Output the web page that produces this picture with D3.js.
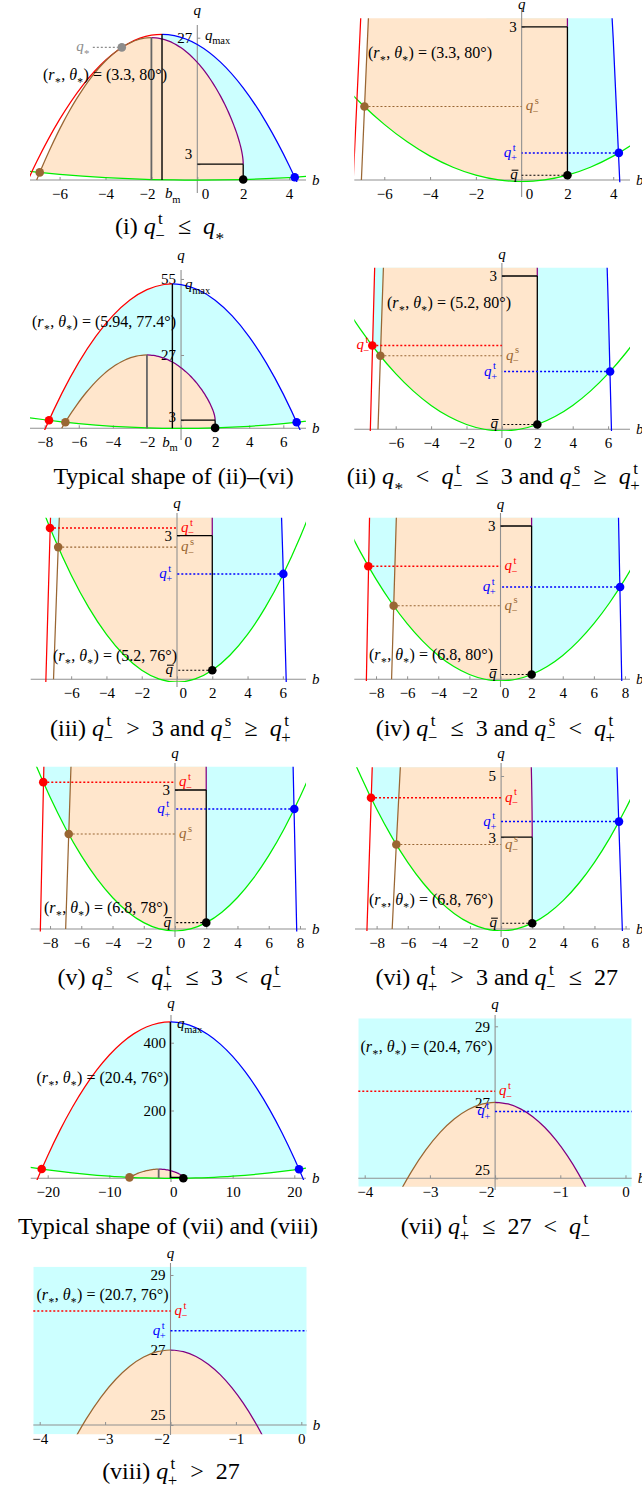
<!DOCTYPE html>
<html>
<head>
<meta charset="utf-8">
<title>Emission regions in the (b, q) plane</title>
<script src="https://cdn.jsdelivr.net/npm/d3@7"></script>
<style>
html, body { margin: 0; padding: 0; background: #fff; }
svg text { font-family: "Liberation Serif", "Times New Roman", serif; white-space: pre; }
</style>
</head>
<body>
<svg id="fig" width="642" height="1492"></svg>
<script>
// ---------------------------------------------------------------
// Critical curve (b, q), ordered from the left foot to the right end
// ---------------------------------------------------------------
const CRIT = [
  [-7,0],[-6.7025,3.0815],[-6.41,5.9319],[-6.1225,8.56],[-5.84,10.9744],[-5.5625,13.1836],
  [-5.29,15.1959],[-5.0225,17.0195],[-4.76,18.6624],[-4.5025,20.1325],[-4.25,21.4375],
  [-4.0025,22.585],[-3.76,23.5824],[-3.5225,24.437],[-3.29,25.1559],[-3.0625,25.7461],
  [-2.84,26.2144],[-2.6225,26.5675],[-2.41,26.8119],[-2.2025,26.954],[-2,27],
  [-1.8025,26.956],[-1.61,26.8279],[-1.4225,26.6215],[-1.24,26.3424],[-1.0625,25.9961],
  [-0.89,25.5879],[-0.7225,25.123],[-0.56,24.6064],[-0.4025,24.043],[-0.25,23.4375],
  [-0.1025,22.794],[0.04,22.1184],[0.1775,21.414],[0.31,20.6839],[0.4375,19.934],
  [0.56,19.1664],[0.6775,18.386],[0.79,17.5959],[0.8975,16.799],[1,16],[1.0975,15.2005],
  [1.19,14.4039],[1.2775,13.613],[1.36,12.8304],[1.4375,12.0586],[1.51,11.2999],
  [1.5775,10.5565],[1.64,9.8304],[1.6975,9.1235],[1.75,8.4375],[1.7975,7.774],
  [1.84,7.1344],[1.8775,6.52],[1.91,5.9319],[1.9375,5.3711],[1.96,4.8384],
  [1.9775,4.3345],[1.99,3.8599],[1.9975,3.4151],[2,3]
];

// Lower (angular) bound for each inclination
const GREEN_80 = [[-10,3.0789],[-9,2.4882],[-8,1.9597],[-7,1.4933],[-6,1.0891],[-5,0.7471],[-4,0.4673],[-3,0.2497],[-2,0.0942],[-1,0.0009],[0,-0.0302],[1,0.0009],[2,0.0942],[3,0.2497],[4,0.4673],[5,0.7471],[6,1.0891],[7,1.4933],[8,1.9597],[9,2.4882],[10,3.0789]];
const GREEN_78 = [[-10,4.475],[-9,3.6165],[-8,2.8484],[-7,2.1707],[-6,1.5833],[-5,1.0863],[-4,0.6797],[-3,0.3634],[-2,0.1375],[-1,0.002],[0,-0.0432],[1,0.002],[2,0.1375],[3,0.3634],[4,0.6797],[5,1.0863],[6,1.5833],[7,2.1707],[8,2.8484],[9,3.6165],[10,4.475]];
const GREEN_774 = [[-10,4.949],[-9,3.9997],[-8,3.1502],[-7,2.4007],[-6,1.7512],[-5,1.2016],[-4,0.7519],[-3,0.4021],[-2,0.1523],[-1,0.0024],[0,-0.0476],[1,0.0024],[2,0.1523],[3,0.4021],[4,0.7519],[5,1.2016],[6,1.7512],[7,2.4007],[8,3.1502],[9,3.9997],[10,4.949]];
const GREEN_76 = [[-24,35.7485],[-22,30.0294],[-20,24.8075],[-18,20.083],[-16,15.8557],[-14,12.1258],[-12,8.8933],[-10,6.158],[-9,4.9769],[-8,3.92],[-7,2.9876],[-6,2.1794],[-5,1.4956],[-4,0.9361],[-3,0.501],[-2,0.1901],[-1,0.0036],[0,-0.0585],[1,0.0036],[2,0.1901],[3,0.501],[4,0.9361],[5,1.4956],[6,2.1794],[7,2.9876],[8,3.92],[9,4.9769],[10,6.158],[12,8.8933],[14,12.1258],[16,15.8557],[18,20.083],[20,24.8075],[22,30.0294],[24,35.7485]];

// Upper (radial) bound for each emission radius
const RAD_33 = [[-9,-17.5062],[-8,-6.2151],[-7,3.4541],[-6,11.5013],[-5,17.9267],[-4,22.7301],[-3,25.9115],[-2,27.471],[-1,27.4087],[0,25.7244],[1,22.4181],[2,17.49],[3,10.9399],[4,2.7679],[5,-7.0261],[6,-18.4419]];
const RAD_594 = [[-10,-33.2185],[-9,-15.9708],[-8,-0.6411],[-7,12.7706],[-6,24.2642],[-5,33.8397],[-4,41.4973],[-3,47.2368],[-2,51.0582],[-1,52.9617],[0,52.947],[1,51.0143],[2,47.1636],[3,41.3948],[4,33.7079],[5,24.1031],[6,12.5802],[7,-0.8608],[8,-16.2197],[9,-33.4968]];
const RAD_52 = [[-10,-38.9682],[-9,-22.2245],[-8,-7.3673],[-7,5.6033],[-6,16.6871],[-5,25.8844],[-4,33.1951],[-3,38.6191],[-2,42.1566],[-1,43.8073],[0,43.5715],[1,41.4491],[2,37.44],[3,31.5443],[4,23.7619],[5,14.093],[6,2.5375],[7,-10.9047],[8,-26.2335],[9,-43.4489]];
const RAD_68 = [[-11,-43.1706],[-10,-23.6035],[-9,-5.9769],[-8,9.7092],[-7,23.4547],[-6,35.2598],[-5,45.1242],[-4,53.048],[-3,59.0314],[-2,63.0742],[-1,65.1765],[0,65.3382],[1,63.5593],[2,59.84],[3,54.18],[4,46.5796],[5,37.0386],[6,25.557],[7,12.1349],[8,-3.2278],[9,-20.5309],[10,-39.7747]];
const RAD_204 = [[-26,-207.184],[-24,-107.883],[-22,-16.561],[-20,66.782],[-18,142.147],[-16,209.532],[-14,268.939],[-12,320.368],[-10,363.817],[-8,399.288],[-6,426.78],[-4,446.293],[-2,457.828],[0,461.383],[2,456.96],[4,444.559],[6,424.178],[8,395.818],[10,359.481],[12,315.164],[14,262.869],[16,202.594],[18,134.341],[20,58.11],[22,-26.101],[24,-118.291],[26,-218.458]];

// Turning point (b_m, q_max) of each radial bound
const PEAK_33 = [-1.538, 27.64];
const PEAK_594 = [-0.508, 53.19];
const PEAK_52 = [-0.625, 43.94];
const PEAK_68 = [-0.417, 65.51];
const PEAK_204 = [-0.109, 461.4];

// Marked crossings [kind, b, q]
const CROSS_I    = [['s',-6.866,1.44],['t+',4.244,0.531],['bar',2,0.094]];
const CROSS_TYP1 = [['t-',-7.745,2.95],['s',-6.784,2.25],['t+',6.781,2.25],['bar',2,0.1523]];
const CROSS_II   = [['t-',-7.322,1.64],['s',-6.866,1.44],['t+',6.112,1.13],['bar',2,0.094]];
const CROSS_III  = [['t-',-7.2,3.16],['s',-6.734,2.76],['t+',6.027,2.2],['bar',2,0.19]];
const CROSS_IV   = [['t-',-8.493,2.213],['s',-6.866,1.44],['t+',7.686,1.807],['bar',2,0.094]];
const CROSS_V    = [['t-',-8.432,3.17],['s',-6.804,2.05],['t+',7.636,2.59],['bar',2,0.1375]];
const CROSS_VI   = [['t-',-8.36,4.29],['s',-6.734,2.76],['t+',7.577,3.51],['bar',2,0.19]];
const CROSS_TYP2 = [['t-',-20.972,27.29],['s',-6.734,2.76],['t+',20.767,26.76],['bar',2,0.19]];
const CROSS_VII  = [['t-',-20.972,27.29],['t+',20.767,26.76]];
const CROSS_VIII = [['t-',-21.26,28.04],['t+',21.058,27.51]];
const QSTAR_I = [-3.29, 25.16];

// Emission point of each panel
const R_STAR = [3.3, 3.3, 5.94, 5.2, 5.2, 6.8, 6.8, 6.8, 20.4, 20.4, 20.7];
const THETA_STAR = [80, 80, 77.4, 80, 76, 80, 78, 76, 76, 76, 76];

// Tick values
const TICKS_B_A = [-6, -4, -2, 0, 2, 4];
const TICKS_B_B = [-8, -6, -4, -2, 0, 2, 4, 6];
const TICKS_B_C = [-6, -4, -2, 0, 2, 4, 6];
const TICKS_B_D = [-8, -6, -4, -2, 0, 2, 4, 6, 8];
const TICKS_B_E = [-20, -10, 0, 10, 20];
const TICKS_B_F = [-4, -3, -2, -1, 0];

// ---------------------------------------------------------------
const svg = d3.select('#fig');
const defs = svg.append('defs');
const C = {
  red: '#ff0000', blue: '#0000ff', green: '#00ee00', brown: '#996633', purple: '#800080',
  cyan: '#ccffff', orange: '#ffe6cc', axis: '#909090', gray: '#8c8c8c', peak: '#666666'
};
const KIND_COLOR = { 't-': C.red, 's': C.brown, 't+': C.blue, 'bar': '#000' };
const KIND_WIDTH = { 't-': 1.5, 's': 1.1, 't+': 1.5, 'bar': 1.1 };

const QTM = { b: 'q', sup: 't', sub: '\u2212' };
const QTP = { b: 'q', sup: 't', sub: '+' };
const QSM = { b: 'q', sup: 's', sub: '\u2212' };
const QST = { b: 'q', star: true };
const QBAR = { b: 'q', bar: true };
const KIND_TOKEN = { 't-': QTM, 's': QSM, 't+': QTP, 'bar': QBAR };
const REL = s => '\u2002' + s + '\u2002';

// Lays out a short formula: plain strings are upright, objects are an italic
// symbol with optional stacked super/subscripts, a starred subscript or an overbar.
function mathText(parent, x, y, parts, o = {}) {
  const size = o.size || 15, color = o.color || '#000';
  const g = parent.append('g').attr('fill', color).attr('font-size', size);
  const put = (s, px, py, fs, italic) => {
    const t = g.append('text').attr('x', px).attr('y', py).text(s);
    if (fs) t.attr('font-size', fs);
    if (italic) t.attr('font-style', 'italic');
    return t.node().getComputedTextLength();
  };
  let cx = 0;
  for (const p of parts) {
    if (typeof p === 'string') { cx += put(p, cx, 0, 0, false); continue; }
    const w = put(p.b, cx, 0, 0, true);
    let ext = 0;
    if (p.sup) ext = Math.max(ext, put(p.sup, cx + w + 0.1 * size, -0.42 * size, 0.7 * size, false) + 0.1 * size);
    if (p.sub) ext = Math.max(ext, put(p.sub, cx + w - 0.02 * size, 0.3 * size, 0.7 * size, false) - 0.02 * size);
    if (p.star) ext = Math.max(ext, put('*', cx + w + 0.02 * size, 0.4 * size, 0.72 * size, false));
    if (p.bar) {
      g.append('line').attr('x1', cx + 0.1 * size).attr('x2', cx + w + 0.05 * size)
        .attr('y1', -0.6 * size).attr('y2', -0.6 * size)
        .attr('stroke', color).attr('stroke-width', 0.07 * size);
    }
    cx += w + ext + (ext ? 0.05 * size : 0);
  }
  const shift = o.anchor === 'middle' ? -cx / 2 : o.anchor === 'end' ? -cx : 0;
  g.attr('transform', `translate(${x + shift},${y})`);
  return g;
}

const PANELS = [
  { rad: RAD_33, peak: PEAK_33, green: GREEN_80, cross: CROSS_I, qstar: QSTAR_I,
    bDom: [-7.29, 4.736], xr: [30, 306], qDom: [-0.38, 29.22], yr: [182, 26], q0: 0, axisB: 0, qAxisPx: [25, 193],
    cyanFromPeak: true, peakLines: true, dots: true,
    bTicks: TICKS_B_A, bDx: { '-2': -4.4, '0': 7.7 }, qTicks: [27, 3], qDy: { '3': -10 },
    bmDx: 11, qmaxLab: [205, 39.5], rLab: [105, 80], qTitleY: 14.5 },
  { rad: RAD_33, peak: PEAK_33, green: GREEN_80, cross: CROSS_I,
    bDom: [-7.31, 4.733], xr: [354.3, 630], qDom: [-0.045, 3.166], yr: [182.3, 18.3], q0: 0, axisB: 0, qAxisPx: [9, 197],
    cyanFromPeak: true, dots: true, dotted: true, side: { 's': 'R', 't+': 'L', 'bar': 'L' },
    bTicks: TICKS_B_A, bDx: { '0': 7.3 }, qTicks: [3], rLab: [430, 58], qTitleY: 9 },
  { rad: RAD_594, peak: PEAK_594, green: GREEN_774, cross: CROSS_TYP1,
    bDom: [-8.86, 7.33], xr: [30, 306], qDom: [-0.626, 56.46], yr: [430, 275], q0: 0, axisB: 0, qAxisPx: [270, 440],
    peakLines: true, dots: true,
    bTicks: TICKS_B_B, bDx: { '0': 6.6 }, qTicks: [55, 27, 3], qDy: { '3': -3.5 },
    bmDx: -2, qmaxLab: [185, 289], rLab: [104, 327], qTitleY: 259.5 },
  { rad: RAD_52, peak: PEAK_52, green: GREEN_80, cross: CROSS_II,
    bDom: [-8.339, 7.237], xr: [354.3, 630], qDom: [-0.0333, 3.1624], yr: [431, 267.7], q0: 0, axisB: 0, qAxisPx: [263, 438],
    dots: true, dotted: true, side: { 't-': 'D', 's': 'R', 't+': 'L', 'bar': 'L' },
    bTicks: TICKS_B_C, bDx: { '0': 5.8 }, qTicks: [3], rLab: [449, 308], qTitleY: 259 },
  { rad: RAD_52, peak: PEAK_52, green: GREEN_76, cross: CROSS_III,
    bDom: [-8.2937, 7.3129], xr: [30.7, 306], qDom: [-0.0564, 3.3737], yr: [682, 517.7], q0: 0, axisB: 0, qAxisPx: [513, 687],
    dots: true, dotted: true, side: { 't-': 'R', 's': 'R', 't+': 'L', 'bar': 'L' },
    bTicks: TICKS_B_C, bDx: { '0': 5.7 }, qTicks: [3], rLab: [115, 661], qTitleY: 507.5 },
  { rad: RAD_68, peak: PEAK_68, green: GREEN_80, cross: CROSS_IV,
    bDom: [-9.396, 8.3226], xr: [354.3, 630], qDom: [-0.0333, 3.1624], yr: [681, 517.7], q0: 0, axisB: 0, qAxisPx: [513, 687],
    dots: true, dotted: true, side: { 't-': 'R', 's': 'R', 't+': 'L', 'bar': 'L' },
    bTicks: TICKS_B_D, bDx: { '0': 4.5 }, qTicks: [3], rLab: [431, 660], qTitleY: 508.5 },
  { rad: RAD_68, peak: PEAK_68, green: GREEN_78, cross: CROSS_V,
    bDom: [-9.238, 8.3867], xr: [30.7, 306], qDom: [-0.054, 3.5031], yr: [931.5, 766.7], q0: 0, axisB: 0, qAxisPx: [763, 937],
    dots: true, dotted: true, side: { 't-': 'R', 's': 'R', 't+': 'L', 'bar': 'L' },
    bTicks: TICKS_B_D, bDx: { '0': 6 }, qTicks: [3], rLab: [106, 913], qTitleY: 757.5 },
  { rad: RAD_68, peak: PEAK_68, green: GREEN_76, cross: CROSS_VI,
    bDom: [-9.3895, 8.2841], xr: [355, 630], qDom: [-0.0654, 5.2843], yr: [931, 767.3], q0: 0, axisB: 0, qAxisPx: [763, 937],
    dots: true, dotted: true, side: { 't-': 'R', 's': 'R', 't+': 'L', 'bar': 'L' },
    bTicks: TICKS_B_D, bDx: { '0': 4 }, qTicks: [5, 3], rLab: [431, 905], qTitleY: 757.5 },
  { rad: RAD_204, peak: PEAK_204, green: GREEN_76, cross: CROSS_TYP2,
    bDom: [-22.757, 21.898], xr: [30.7, 306], qDom: [-5.01, 472.9], yr: [1180, 1018], q0: 0, axisB: 0, qAxisPx: [1015, 1182],
    peakLines: true, dots: true,
    bTicks: TICKS_B_E, bDx: { '0': 2.3 }, qTicks: [400, 200],
    qmaxLab: [177, 1028], rLab: [102.5, 1083], qTitleY: 1008 },
  { green: GREEN_76, cross: CROSS_VII, cyanFull: true,
    bDom: [-4.0982, 0.0951], xr: [358.3, 631.7], qDom: [24.779, 29.2105], yr: [1186.7, 1018.3], q0: 25, axisB: -2, qAxisPx: [1015, 1190],
    dotted: true, side: { 't-': 'R', 't+': 'L' },
    bTicks: TICKS_B_F, bDx: { '-2': -9 }, qTicks: [29, 27, 25], qDy: { '25': -9 }, rLab: [426.5, 1052], qTitleY: 1009 },
  { green: GREEN_76, cross: CROSS_VIII, cyanFull: true,
    bDom: [-4.0979, 0.0826], xr: [33.3, 306.7], qDom: [24.752, 29.2213], yr: [1434.3, 1266.7], q0: 25, axisB: -2, qAxisPx: [1263, 1435],
    dotted: true, side: { 't-': 'R', 't+': 'L' },
    bTicks: TICKS_B_F, bDx: { '-2': -9 }, qTicks: [29, 27, 25], qDy: { '25': -10 }, rLab: [102.5, 1300], qTitleY: 1257.5 }
];

function drawPanel(p, idx) {
  const x = d3.scaleLinear().domain(p.bDom).range(p.xr);
  const y = d3.scaleLinear().domain(p.qDom).range(p.yr);
  const [x0, x1] = p.xr, [yB, yT] = p.yr;
  const lowY = yB + 3000, highY = yT - 3000;
  const id = 'pn' + idx;
  const mkClip = (name, build) => {
    const c = defs.append('clipPath').attr('id', id + name);
    build(c);
    return `url(#${id}${name})`;
  };
  const rect = (sel, xa, ya, xb, yb) => sel.append('rect')
    .attr('x', xa).attr('y', ya).attr('width', xb - xa).attr('height', yb - ya);
  const line = d3.line().x(d => x(d[0])).y(d => y(d[1])).curve(d3.curveCardinal.tension(0));
  const closeTo = (pts, yy) => line(pts) + `L${x(pts[pts.length - 1][0])},${yy}L${x(pts[0][0])},${yy}Z`;

  const frame = mkClip('f', c => rect(c, x0, yT, x1, yB));
  const aboveGreen = mkClip('g', c => c.append('path').attr('d', closeTo(p.green, highY)));
  const root = svg.append('g');

  // shaded regions
  const fill = root.append('g').attr('clip-path', frame).append('g').attr('clip-path', aboveGreen);
  if (p.cyanFull) {
    rect(fill, x0, yT, x1, yB).attr('fill', C.cyan);
  } else {
    let tgt = fill;
    if (p.cyanFromPeak) {
      tgt = fill.append('g').attr('clip-path', mkClip('c', c => rect(c, x(p.peak[0]), highY, x1 + 80, lowY)));
    }
    tgt.append('path').attr('d', closeTo(p.rad, lowY)).attr('fill', C.cyan);
  }
  fill.append('path').attr('d', closeTo(CRIT, lowY)).attr('fill', C.orange);

  // axes
  const yAx = y(p.q0), xAx = x(p.axisB);
  const axG = root.append('g');
  axG.append('line').attr('x1', x0).attr('x2', x1).attr('y1', yAx).attr('y2', yAx)
    .attr('stroke', C.axis).attr('stroke-width', 1.1);
  axG.append('line').attr('x1', xAx).attr('x2', xAx).attr('y1', p.qAxisPx[0]).attr('y2', p.qAxisPx[1])
    .attr('stroke', C.axis).attr('stroke-width', 1.1);
  const gb = axG.append('g').attr('transform', `translate(0,${yAx})`)
    .call(d3.axisBottom(x).tickValues(p.bTicks).tickSizeInner(-3).tickSizeOuter(0).tickPadding(8).tickFormat(d3.format('d')));
  gb.select('.domain').remove();
  gb.attr('font-family', null).attr('font-size', null);
  gb.selectAll('.tick line').attr('stroke', C.axis);
  gb.selectAll('.tick text').attr('fill', '#000').attr('font-size', 15)
    .attr('dx', d => (p.bDx && p.bDx[d]) || 0);
  const gq = axG.append('g').attr('transform', `translate(${xAx},0)`)
    .call(d3.axisLeft(y).tickValues(p.qTicks).tickSizeInner(-3).tickSizeOuter(0).tickPadding(5).tickFormat(d3.format('d')));
  gq.select('.domain').remove();
  gq.attr('font-family', null).attr('font-size', null);
  gq.selectAll('.tick line').attr('stroke', C.axis);
  gq.selectAll('.tick text').attr('fill', '#000').attr('font-size', 15)
    .attr('y', d => (p.qDy && p.qDy[d]) || 0);
  axG.append('text').attr('x', xAx).attr('y', p.qTitleY).attr('text-anchor', 'middle')
    .attr('font-style', 'italic').attr('font-size', 15).text('q');
  axG.append('text').attr('x', x1 + 6).attr('y', yAx + 5)
    .attr('font-style', 'italic').attr('font-size', 15).text('b');

  // boundary curves
  const cv = root.append('g').attr('clip-path', frame).attr('fill', 'none').attr('stroke-width', 1.25);
  cv.append('path').attr('d', line(p.green)).attr('stroke', C.green);
  if (p.rad) {
    const xm = x(p.peak[0]);
    cv.append('g').attr('clip-path', mkClip('l', c => rect(c, x0 - 20, highY, xm, lowY)))
      .append('path').attr('d', line(p.rad)).attr('stroke', C.red);
    cv.append('g').attr('clip-path', mkClip('r', c => rect(c, xm, highY, x1 + 20, lowY)))
      .append('path').attr('d', line(p.rad)).attr('stroke', C.blue);
  }
  cv.append('path').attr('d', line(CRIT.slice(0, 21))).attr('stroke', C.brown);
  cv.append('path').attr('d', line(CRIT.slice(20))).attr('stroke', C.purple);

  // reference segments
  const ref = root.append('g').attr('clip-path', frame);
  const end = CRIT[CRIT.length - 1];
  if (p.peakLines) {
    const top = CRIT[20];
    ref.append('line').attr('x1', x(top[0])).attr('x2', x(top[0])).attr('y1', y(0)).attr('y2', y(top[1]))
      .attr('stroke', C.peak).attr('stroke-width', 1.8);
    ref.append('line').attr('x1', x(p.peak[0])).attr('x2', x(p.peak[0])).attr('y1', y(0)).attr('y2', y(p.peak[1]))
      .attr('stroke', '#000').attr('stroke-width', 1.4);
  }
  const bar = p.cross.find(c => c[0] === 'bar');
  if (bar) {
    ref.append('line').attr('x1', x(bar[1])).attr('x2', x(bar[1])).attr('y1', y(bar[2])).attr('y2', y(end[1]))
      .attr('stroke', '#000').attr('stroke-width', 1.3);
    ref.append('line').attr('x1', xAx).attr('x2', x(end[0])).attr('y1', y(end[1])).attr('y2', y(end[1]))
      .attr('stroke', '#000').attr('stroke-width', 1.3);
  }

  // dotted levels with their labels
  if (p.dotted) {
    p.cross.forEach(([k, b, q]) => {
      const yy = y(q);
      let xa, xb;
      if (p.cyanFull) { xa = k === 't-' ? x0 : xAx; xb = k === 't-' ? xAx : x1; }
      else { xa = x(b); xb = xAx; }
      root.append('line').attr('x1', xa).attr('x2', xb).attr('y1', yy).attr('y2', yy)
        .attr('stroke', KIND_COLOR[k]).attr('stroke-width', KIND_WIDTH[k]).attr('stroke-dasharray', '2,2');
      const s = p.side[k];
      if (s === 'R') mathText(root, xAx + 4, yy + 4, [KIND_TOKEN[k]], { color: KIND_COLOR[k] });
      else if (s === 'L') mathText(root, xAx - 4, yy + 4, [KIND_TOKEN[k]], { color: KIND_COLOR[k], anchor: 'end' });
      else if (s === 'D') mathText(root, x(b) - 2, yy + 4, [KIND_TOKEN[k]], { color: KIND_COLOR[k], anchor: 'end' });
    });
  }

  // the point q_* on the critical curve
  if (p.qstar) {
    const qx = x(p.qstar[0]), qy = y(p.qstar[1]);
    root.append('line').attr('x1', qx - 29).attr('x2', qx - 4).attr('y1', qy).attr('y2', qy)
      .attr('stroke', C.gray).attr('stroke-width', 1.1).attr('stroke-dasharray', '2,2');
    root.append('circle').attr('cx', qx).attr('cy', qy).attr('r', 4.3).attr('fill', C.gray);
    mathText(root, qx - 32, qy + 4, [QST], { color: C.gray, anchor: 'end' });
  }

  // crossing points
  if (p.dots) {
    p.cross.forEach(([k, b, q]) => {
      root.append('circle').attr('cx', x(b)).attr('cy', y(q)).attr('r', 4.3).attr('fill', KIND_COLOR[k]);
    });
  }

  // annotations
  if (p.bmDx != null) {
    mathText(root, x(p.peak[0]) + p.bmDx, yAx + 18.5, [{ b: 'b', sub: 'm' }], { anchor: 'middle' });
  }
  if (p.qmaxLab) mathText(root, p.qmaxLab[0], p.qmaxLab[1], [{ b: 'q', sub: 'max' }]);
  mathText(root, p.rLab[0], p.rLab[1],
    ['(', { b: 'r', star: true }, ', ', { b: '\u03b8', star: true }, `) = (${R_STAR[idx]}, ${THETA_STAR[idx]}\u00b0)`],
    { size: 16, anchor: 'middle' });
}

PANELS.forEach(drawPanel);

// captions
const CAPTIONS = [
  { at: [170, 234], anchor: 'middle', parts: ['(i) ', QTM, REL('\u2264'), QST] },
  { at: [173.5, 484], anchor: 'middle', parts: ['Typical shape of (ii)\u2013(vi)'] },
  { at: [346.7, 484], anchor: 'start', parts: ['(ii) ', QST, REL('<'), QTM, REL('\u2264'), '3 and ', QSM, REL('\u2265'), QTP] },
  { at: [171, 736], anchor: 'middle', parts: ['(iii) ', QTM, REL('>'), '3 and ', QSM, REL('\u2265'), QTP] },
  { at: [496, 736], anchor: 'middle', parts: ['(iv) ', QTM, REL('\u2264'), '3 and ', QSM, REL('<'), QTP] },
  { at: [170, 985], anchor: 'middle', parts: ['(v) ', QSM, REL('<'), QTP, REL('\u2264'), '3', REL('<'), QTM] },
  { at: [496.7, 985], anchor: 'middle', parts: ['(vi) ', QTP, REL('>'), '3 and ', QTM, REL('\u2264'), '27'] },
  { at: [168, 1234], anchor: 'middle', parts: ['Typical shape of (vii) and (viii)'] },
  { at: [496, 1234], anchor: 'middle', parts: ['(vii) ', QTP, REL('\u2264'), '27', REL('<'), QTM] },
  { at: [171, 1479], anchor: 'middle', parts: ['(viii) ', QTP, REL('>'), '27'] }
];
const capG = svg.append('g');
CAPTIONS.forEach(c => mathText(capG, c.at[0], c.at[1], c.parts, { size: 24, anchor: c.anchor }));
</script>
</body>
</html>
